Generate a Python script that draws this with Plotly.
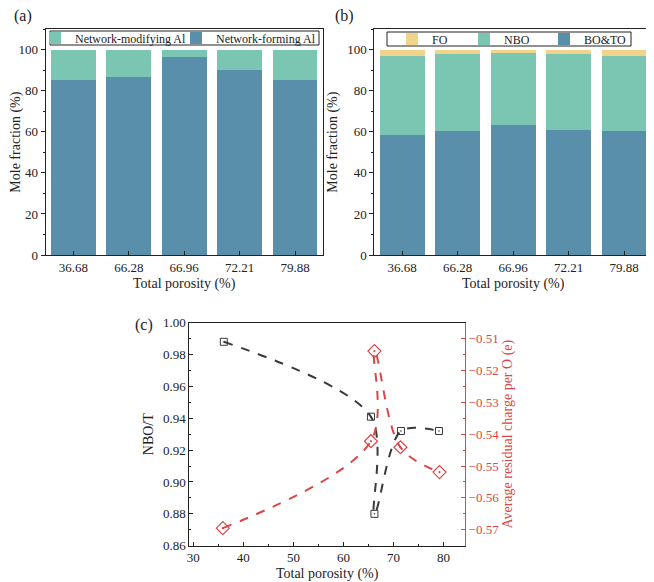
import plotly.graph_objects as go

# ---------------- data ----------------
porosity_labels = ["36.68", "66.28", "66.96", "72.21", "79.88"]

# panel (a)
al_forming = [85.4, 86.7, 96.3, 90.1, 85.4]
al_modifying = [14.6, 13.3, 3.7, 9.9, 14.6]

# panel (b)
bo_to = [58.3, 60.6, 63.6, 60.8, 60.3]
nbo = [38.9, 37.3, 34.7, 37.1, 36.9]
fo = [2.8, 2.1, 1.7, 2.1, 2.8]

# panel (c)
por_c = [36.1, 65.5, 66.2, 71.5, 79.1]
nbo_t = [0.988, 0.941, 0.880, 0.932, 0.932]
por_c_red = [35.9, 65.5, 66.2, 71.4, 79.2]
charge = [-0.5695, -0.5422, -0.5139, -0.5441, -0.5519]

# ---------------- style ----------------
TEAL = "#7bc6b3"
BLUE = "#5a8fab"
YELLOW = "#f1d38c"
RED = "#d94848"
DARK = "#3a3a3a"
INK = "#222222"
FONT = "Liberation Serif"

OFF = 8          # default page body margin
W, H = 654 - OFF, 582 - OFF
def px(x):
    return (x - OFF) / W
def py(y):
    return 1 - (y - OFF) / H

fig = go.Figure()

# panel (a)
fig.add_trace(go.Bar(x=porosity_labels, y=al_forming, name="Network-forming Al",
                     marker=dict(color=BLUE, line=dict(width=0)),
                     xaxis="x", yaxis="y", legend="legend2"))
fig.add_trace(go.Bar(x=porosity_labels, y=al_modifying, name="Network-modifying Al",
                     marker=dict(color=TEAL, line=dict(width=0)),
                     xaxis="x", yaxis="y", legend="legend"))

# panel (b)
fig.add_trace(go.Bar(x=porosity_labels, y=bo_to, name="BO&TO",
                     marker=dict(color=BLUE, line=dict(width=0)),
                     xaxis="x2", yaxis="y2", legend="legend5"))
fig.add_trace(go.Bar(x=porosity_labels, y=nbo, name="NBO",
                     marker=dict(color=TEAL, line=dict(width=0)),
                     xaxis="x2", yaxis="y2", legend="legend4"))
fig.add_trace(go.Bar(x=porosity_labels, y=fo, name="FO",
                     marker=dict(color=YELLOW, line=dict(width=0)),
                     xaxis="x2", yaxis="y2", legend="legend3"))

# panel (c)
fig.add_trace(go.Scatter(x=por_c, y=nbo_t, mode="lines+markers", showlegend=False,
                         line=dict(color=DARK, width=2, dash="dash", shape="spline", smoothing=0.9),
                         marker=dict(symbol="square-open-dot", size=7, color=DARK, line=dict(width=1)),
                         xaxis="x3", yaxis="y3"))
fig.add_trace(go.Scatter(x=por_c_red, y=charge, mode="lines+markers", showlegend=False,
                         line=dict(color=RED, width=2, dash="dash", shape="spline", smoothing=1),
                         marker=dict(symbol="diamond-open-dot", size=10, color=RED, line=dict(width=1.2)),
                         xaxis="x3", yaxis="y4"))

tickfont = dict(family=FONT, size=13, color=INK)
titlefont = dict(family=FONT, size=14, color=INK)

bar_x = dict(type="category", range=[-0.5, 4.5], showline=True, linecolor=INK, linewidth=1,
             mirror=True, ticks="inside", ticklen=4, tickcolor=INK, tickfont=tickfont,
             showgrid=False, zeroline=False, automargin=False,
             title=dict(text="Total porosity (%)", font=titlefont, standoff=4))
bar_y = dict(range=[0, 110], tickvals=[0, 20, 40, 60, 80, 100], showline=True, linecolor=INK,
             linewidth=1, mirror=True, ticks="outside", ticklen=4, tickcolor=INK,
             minor=dict(ticks="outside", ticklen=2, dtick=10, tickcolor=INK),
             showgrid=False, zeroline=False, tickfont=tickfont, automargin=False,
             title=dict(text="Mole fraction (%)", font=titlefont, standoff=6))

legend_common = dict(orientation="h", yanchor="middle", xanchor="left",
                     borderwidth=0, bgcolor="rgba(0,0,0,0)",
                     font=dict(family=FONT, size=12, color=INK),
                     itemwidth=30)

# legend frames (white boxes with a thin border, behind the legend entries)
legend_frame = dict(type="rect", xref="paper", yref="paper", layer="above",
                    line=dict(color=INK, width=1), fillcolor="white")

fig.update_layout(
    template="none",
    width=W, height=H,
    margin=dict(l=0, r=0, t=0, b=0, autoexpand=False),
    paper_bgcolor="white", plot_bgcolor="white",
    barmode="stack", bargap=0.19,
    font=dict(family=FONT, color=INK),
    xaxis=dict(domain=[px(45.7), px(322.7)], anchor="y", **bar_x),
    yaxis=dict(domain=[py(255), py(29.3)], anchor="x", **bar_y),
    xaxis2=dict(domain=[px(374.3), px(652)], anchor="y2", **bar_x),
    yaxis2=dict(domain=[py(255), py(29.3)], anchor="x2", **bar_y),
    xaxis3=dict(domain=[px(189.3), px(465)], anchor="y3", range=[29.2, 84.3],
                tickvals=[30, 40, 50, 60, 70, 80], showline=True, linecolor=INK, linewidth=1,
                mirror=True, ticks="inside", ticklen=4, tickcolor=INK,
                minor=dict(ticks="inside", ticklen=2, dtick=5, tickcolor=INK),
                showgrid=False, zeroline=False, tickfont=tickfont, automargin=False,
                title=dict(text="Total porosity (%)", font=titlefont, standoff=4)),
    yaxis3=dict(domain=[py(545.7), py(322.7)], anchor="x3", range=[0.86, 1.00],
                dtick=0.02, tickformat=".2f", showline=True, linecolor=INK, linewidth=1,
                ticks="inside", ticklen=4, tickcolor=INK,
                minor=dict(ticks="inside", ticklen=2, dtick=0.01, tickcolor=INK),
                showgrid=False, zeroline=False, tickfont=tickfont, automargin=False,
                title=dict(text="NBO/T", font=titlefont, standoff=6)),
    yaxis4=dict(overlaying="y3", side="right", anchor="x3", range=[-0.575, -0.505],
                dtick=0.01, tickformat=".2f", showline=True, linecolor=RED, linewidth=1,
                ticks="inside", ticklen=4, tickcolor=RED,
                minor=dict(ticks="inside", ticklen=2, dtick=0.005, tickcolor=RED),
                showgrid=False, zeroline=False, automargin=False,
                tickfont=dict(family=FONT, size=13, color=RED),
                title=dict(text="Average residual charge per O (e)",
                           font=dict(family=FONT, size=14, color=RED), standoff=4)),
    legend=dict(x=px(35), y=py(38), **legend_common),
    legend2=dict(x=px(176), y=py(38), **legend_common),
    legend3=dict(x=px(392), y=py(39), **legend_common),
    legend4=dict(x=px(464), y=py(39), **legend_common),
    legend5=dict(x=px(544), y=py(39), **legend_common),
    shapes=[
        dict(x0=px(50), x1=px(319), y0=py(45), y1=py(31), **legend_frame),
        dict(x0=px(387), x1=px(631), y0=py(46), y1=py(32), **legend_frame),
    ],
    annotations=[
        dict(text="(a)", x=px(12), y=py(16), xref="paper", yref="paper", xanchor="left",
             yanchor="middle", showarrow=False, font=dict(family=FONT, size=16, color=INK)),
        dict(text="(b)", x=px(333), y=py(16), xref="paper", yref="paper", xanchor="left",
             yanchor="middle", showarrow=False, font=dict(family=FONT, size=16, color=INK)),
        dict(text="(c)", x=px(133), y=py(325), xref="paper", yref="paper", xanchor="left",
             yanchor="middle", showarrow=False, font=dict(family=FONT, size=16, color=INK)),
    ],
)

fig.write_html("out.html")
